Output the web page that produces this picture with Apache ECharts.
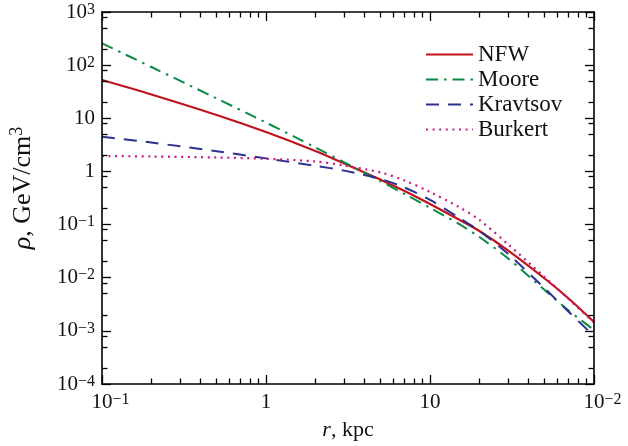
<!DOCTYPE html>
<html>
<head>
<meta charset="utf-8">
<script src="https://cdn.jsdelivr.net/npm/echarts@6/dist/echarts.min.js"></script>
<style>
  html, body { margin: 0; padding: 0; background: #fff; }
  #chart { width: 628px; height: 446px; }
</style>
</head>
<body>
<div id="chart"></div>
<script>
// Dark matter density profiles, rho(r) in GeV/cm^3 against r in kpc
const radius   = [0.1, 0.2, 0.5, 1, 2, 3, 5, 7, 10, 15, 20, 30, 50, 70, 100];
const nfw      = [52.5, 28.1, 11.56, 5.52, 2.43, 1.41, 0.700, 0.427, 0.243, 0.1245, 0.0757, 0.0324, 0.00966, 0.00406, 0.00147];
const moore    = [257.6, 92.3, 23.6, 8.30, 2.83, 1.486, 0.653, 0.376, 0.2065, 0.1026, 0.0583, 0.02296, 0.00587, 0.00242, 0.00104];
const kravtsov = [4.50, 3.50, 2.39, 1.76, 1.27, 1.035, 0.719, 0.498, 0.290, 0.135, 0.0757, 0.0279, 0.00631, 0.00229, 0.000794];
const burkert  = [1.95, 1.91, 1.83, 1.73, 1.54, 1.29, 0.955, 0.675, 0.410, 0.214, 0.122, 0.0422, 0.0103, 0.00397, 0.00144];

const seriesNames = ['NFW', 'Moore', 'Kravtsov', 'Burkert'];

// Tick positions and their printed labels (base, exponent)
const xMajor    = [0.1, 1, 10, 100];
const xTickBase = ['10', '1', '10', '10'];
const xTickExp  = ['−1', '', '', '−2'];
const xMinor = [0.2,0.3,0.4,0.5,0.6,0.7,0.8,0.9, 2,3,4,5,6,7,8,9, 20,30,40,50,60,70,80,90];

const yMajor    = [1e-4, 1e-3, 1e-2, 1e-1, 1, 10, 100, 1000];
const yTickBase = ['10', '10', '10', '10', '1', '10', '10', '10'];
const yTickExp  = ['−4', '−3', '−2', '−1', '', '', '2', '3'];
const yMinor = [];
[1e-4, 1e-3, 1e-2, 1e-1, 1, 10, 100].forEach(function (d) {
  yMinor.push(2 * d, 5 * d, 8 * d);
});

const FONT = 'Liberation Serif';
const INK = '#111';

function pairs(ys) {
  return radius.map(function (r, i) { return [r, ys[i]]; });
}
function nearestIndex(list, v) {
  let best = 0, bestD = Infinity;
  list.forEach(function (t, i) {
    const d = Math.abs(Math.log10(t) - Math.log10(v));
    if (d < bestD) { bestD = d; best = i; }
  });
  return best;
}

// Rich text: base number, raised exponent, and a spacer that keeps the
// base of "10^n" centred on its tick along the x axis
const tickRich = {
  b: { fontFamily: FONT, fontSize: 21, color: INK },
  s: { fontFamily: FONT, fontSize: 16, color: INK, verticalAlign: 'top' },
  pad: { fontFamily: FONT, fontSize: 16, width: 17 }
};
function xLabel(v) {
  const i = nearestIndex(xMajor, v);
  if (xTickExp[i]) return '{pad| }{b|' + xTickBase[i] + '}{s|' + xTickExp[i] + '}';
  return '{b|' + xTickBase[i] + '}';
}
function yLabel(v) {
  const i = nearestIndex(yMajor, v);
  if (yTickExp[i]) return '{b|' + yTickBase[i] + '}{s|' + yTickExp[i] + '}';
  return '{b|' + yTickBase[i] + '}';
}

const frameLine = { show: true, onZero: false, lineStyle: { color: '#000', width: 1.6 } };

// One log axis layer: major or minor inward ticks, optionally with the frame line
function logAxis(kind, pos, ticks, len, withLine, label, extra) {
  const ax = {
    type: 'log', logBase: 10,
    min: kind === 'x' ? 0.1 : 1e-4,
    max: kind === 'x' ? 100 : 1000,
    position: pos,
    axisLine: withLine ? frameLine : { show: false },
    axisTick: { show: true, inside: true, length: len, customValues: ticks,
                lineStyle: { color: '#000', width: 1.3 } },
    axisLabel: label || { show: false },
    splitLine: { show: false },
    minorTick: { show: false },
    z: 5
  };
  return Object.assign(ax, extra || {});
}

const chart = echarts.init(document.getElementById('chart'));
const lineBase = { type: 'line', symbol: 'none', showSymbol: false, smooth: 0.3,
                   xAxisIndex: 0, yAxisIndex: 0, z: 3 };

chart.setOption({
  animation: false,
  backgroundColor: '#fff',
  grid: { left: 100, right: 34, top: 12, bottom: 62 },
  legend: {
    orient: 'vertical', left: 425, top: 43, padding: 0,
    itemWidth: 47, itemHeight: 14, itemGap: 2,
    data: seriesNames,
    itemStyle: { opacity: 0 },
    textStyle: { fontFamily: FONT, fontSize: 23, color: INK }
  },
  xAxis: [
    logAxis('x', 'bottom', xMajor, 9, true,
      { show: true, customValues: xMajor, margin: 8, formatter: xLabel, rich: tickRich },
      { name: '{i|r}{t|, kpc}', nameLocation: 'middle', nameGap: 35,
        nameTextStyle: { rich: {
          i: { fontFamily: FONT, fontSize: 22, fontStyle: 'italic', color: INK },
          t: { fontFamily: FONT, fontSize: 22, color: INK } } } }),
    logAxis('x', 'bottom', xMinor, 5.5, false),
    logAxis('x', 'top', xMajor, 9, true),
    logAxis('x', 'top', xMinor, 5.5, false)
  ],
  yAxis: [
    logAxis('y', 'left', yMajor, 9, true,
      { show: true, customValues: yMajor, margin: 7, formatter: yLabel, rich: tickRich },
      { name: '{i|ρ}{t|, GeV/cm}{s|3}', nameLocation: 'middle', nameGap: 64,
        nameTextStyle: { padding: [0, 0, 0, 20], rich: {
          i: { fontFamily: FONT, fontSize: 26, fontStyle: 'italic', color: INK, lineHeight: 30 },
          t: { fontFamily: FONT, fontSize: 26, color: INK, lineHeight: 30 },
          s: { fontFamily: FONT, fontSize: 18, color: INK, lineHeight: 18, verticalAlign: 'top' } } } }),
    logAxis('y', 'left', yMinor, 5.5, false),
    logAxis('y', 'right', yMajor, 9, true),
    logAxis('y', 'right', yMinor, 5.5, false)
  ],
  series: [
    Object.assign({}, lineBase, { name: 'NFW', data: pairs(nfw),
      lineStyle: { color: '#c0141c', width: 2.2, type: 'solid' }, itemStyle: { color: '#c0141c' } }),
    Object.assign({}, lineBase, { name: 'Moore', data: pairs(moore),
      lineStyle: { color: '#0b8a45', width: 2, type: [12, 6, 2.5, 6] }, itemStyle: { color: '#0b8a45' } }),
    Object.assign({}, lineBase, { name: 'Kravtsov', data: pairs(kravtsov),
      lineStyle: { color: '#2d3190', width: 2, type: [13, 9] }, itemStyle: { color: '#2d3190' } }),
    Object.assign({}, lineBase, { name: 'Burkert', data: pairs(burkert),
      lineStyle: { color: '#c81a7e', width: 2.2, type: [2, 4.6] }, itemStyle: { color: '#c81a7e' } })
  ]
});
</script>
</body>
</html>
